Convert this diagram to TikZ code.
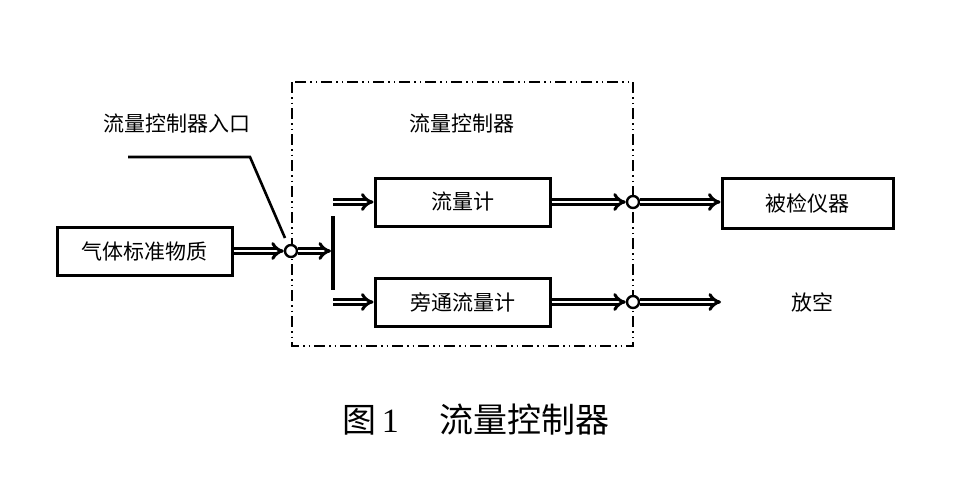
\documentclass[tikz,border=0pt]{standalone}
\usepackage{fontspec}
\newfontfamily\cjk{Noto Sans CJK SC}
\newfontfamily\numfont{Liberation Serif}
\usetikzlibrary{arrows.meta}
\begin{document}
\begin{tikzpicture}[x=1pt,y=-1pt,
  box/.style={draw,line width=3pt,minimum width=175pt,minimum height=48pt,inner sep=0pt,font=\cjk\fontsize{21}{25}\selectfont},
  lbl/.style={font=\cjk\fontsize{21}{25}\selectfont},
  dbl/.style={double,line width=3pt,double distance=2.6pt,-{Implies[length=8pt,width=14pt]}},
  junc/.style={circle,draw,fill=white,line width=2.4pt,minimum size=12pt,inner sep=0pt},
  frame/.style={line width=1.5pt,dash pattern=on 11pt off 4pt on 1.5pt off 4pt on 1.5pt off 4pt}]
\useasboundingbox (0,0) rectangle (960,480);
\fill[white] (0,0) rectangle (960,480);
% control boundary
\draw[frame] (292,82) rectangle (633,346);
% nodes
\node[box] (src) at (144.5,251) {气体标准物质};
\node[box] (fm) at (462.5,202) {流量计};
\node[box] (byp) at (462.5,302) {旁通流量计};
\node[box,minimum width=171pt,minimum height=50pt] (dut) at (807.5,203) {被检仪器};
\node[lbl] (vent) at (812,302) {放空};
\node[lbl] (inlab) at (177,124) {流量控制器入口};
\node[lbl] (fclab) at (462,124) {流量控制器};
\node[font=\cjk\fontsize{34}{40}\selectfont] (cap) at (476,420) {图\,{\numfont 1}\hspace{1.2em}流量控制器};
% splitter bar
\coordinate (barT) at (333,216);
\coordinate (barB) at (333,290);
\draw[line width=4.5pt] (barT) -- (barB);
\coordinate (splitU) at (333,202);
\coordinate (splitL) at (333,302);
\coordinate (barM) at (331,251);
\coordinate (ventEnd) at (721,302);
% leader line
\coordinate (lead0) at (128,157);
\coordinate (lead1) at (250,157);
\coordinate (lead2) at (285,238);
\draw[line width=2.6pt] (lead0) -- (lead1) -- (lead2);
% flows
\node[junc] (jin) at (291,251) {};
\node[junc] (jfm) at (633,202) {};
\node[junc] (jbyp) at (633,302) {};
\draw[dbl] (src.east) -- (jin.west);
\draw[dbl] (jin.east) -- (barM);
\draw[dbl] (splitU) -- (fm.west);
\draw[dbl] (splitL) -- (byp.west);
\draw[dbl] (fm.east) -- (jfm.west);
\draw[dbl] (jfm.east) -- (dut.west |- jfm.east);
\draw[dbl] (byp.east) -- (jbyp.west);
\draw[dbl] (jbyp.east) -- (ventEnd);
\end{tikzpicture}
\end{document}
